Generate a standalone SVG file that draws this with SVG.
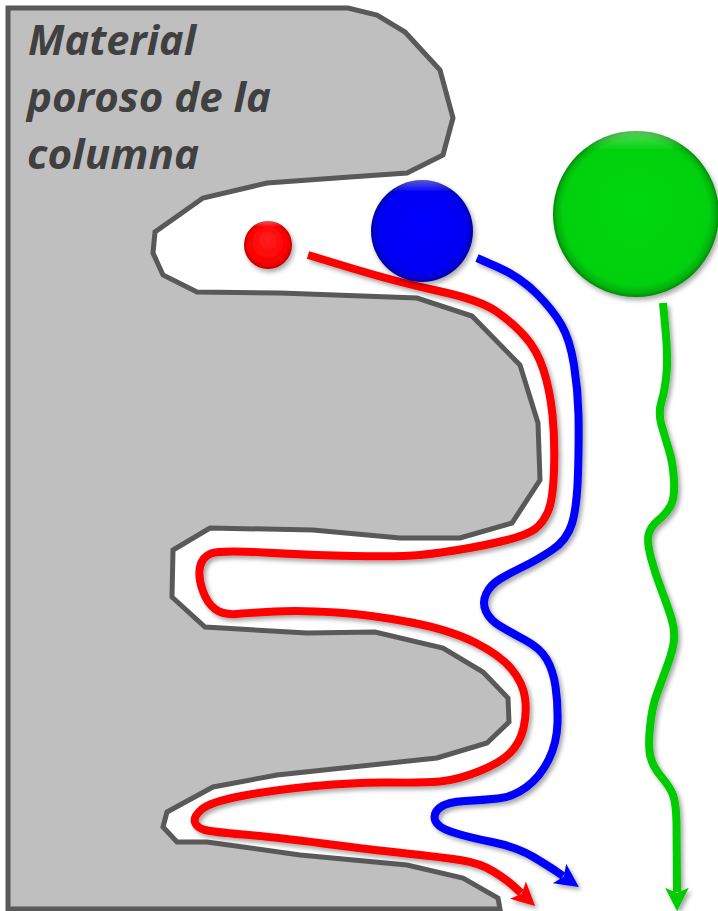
<svg xmlns="http://www.w3.org/2000/svg" width="718" height="911" viewBox="0 0 718 911">
  <style>
    .matrix { fill: #bfbfbf; stroke: #595959; stroke-width: 5; stroke-linejoin: miter; }
    .label { font-family: "Open Sans", Lato, "Liberation Sans", sans-serif; font-weight: bold; font-style: italic; font-size: 41px; fill: #404040; }
    .route { fill: none; stroke-width: 8; stroke-linecap: butt; stroke-linejoin: round; }
    .red { stroke: #ff0000; }
    .blue { stroke: #0000ff; }
    .green { stroke: #00cc00; }
  </style>
  <defs>
    <filter id="soft" x="-20%" y="-20%" width="140%" height="140%">
      <feDropShadow dx="2.5" dy="3" stdDeviation="2" flood-color="#000" flood-opacity="0.35"/>
    </filter>
    <filter id="ballShadow" x="-20%" y="-20%" width="140%" height="140%">
      <feDropShadow dx="2" dy="3" stdDeviation="2.5" flood-color="#000" flood-opacity="0.35"/>
    </filter>
    <radialGradient id="gRed" cx="50%" cy="50%" r="50%" fx="50%" fy="35%">
      <stop offset="0" stop-color="#ff2020"/>
      <stop offset="0.8" stop-color="#ff0000"/>
      <stop offset="0.93" stop-color="#e00000"/>
      <stop offset="1" stop-color="#b00000"/>
    </radialGradient>
    <radialGradient id="gBlue" cx="50%" cy="50%" r="50%" fx="50%" fy="40%">
      <stop offset="0" stop-color="#0000ff"/>
      <stop offset="0.85" stop-color="#0000f4"/>
      <stop offset="0.95" stop-color="#0000d0"/>
      <stop offset="1" stop-color="#00009a"/>
    </radialGradient>
    <radialGradient id="gGreen" cx="50%" cy="50%" r="50%" fx="50%" fy="42%">
      <stop offset="0" stop-color="#00d80a"/>
      <stop offset="0.88" stop-color="#00d00a"/>
      <stop offset="0.96" stop-color="#00b008"/>
      <stop offset="1" stop-color="#008a06"/>
    </radialGradient>
    <linearGradient id="rim" x1="0" y1="0" x2="0" y2="1">
      <stop offset="0" stop-color="#fff" stop-opacity="0.35"/>
      <stop offset="0.12" stop-color="#fff" stop-opacity="0"/>
      <stop offset="1" stop-color="#fff" stop-opacity="0"/>
    </linearGradient>
    <marker id="tipRed" markerUnits="userSpaceOnUse" markerWidth="30" markerHeight="30" viewBox="-6 -13 28 26" refX="0" refY="0" orient="auto" overflow="visible">
      <path d="M-4,-11 L18,0 L-4,11 L1,0 Z" fill="#ff0000"/>
    </marker>
    <marker id="tipBlue" markerUnits="userSpaceOnUse" markerWidth="30" markerHeight="30" viewBox="-6 -13 28 26" refX="0" refY="0" orient="auto" overflow="visible">
      <path d="M-4,-11 L18,0 L-4,11 L1,0 Z" fill="#0000ff"/>
    </marker>
    <marker id="tipGreen" markerUnits="userSpaceOnUse" markerWidth="30" markerHeight="30" viewBox="-6 -13 28 26" refX="0" refY="0" orient="auto" overflow="visible">
      <path d="M-4,-11 L18,0 L-4,11 L1,0 Z" fill="#00cc00"/>
    </marker>
  </defs>

  <rect width="718" height="911" fill="#ffffff"/>

  <!-- porous packing material with its pores -->
  <g id="material">
    <polygon class="matrix" points="8,8 348,8 377,15 405,32 440,70 453,118 443,155 407,173 350,177 267,183 203,198 155,232 153,253 163,275 197,292 280,293 417,298 472,316 520,365 538,423 540,480 512,523 460,538 400,538 313,530 210,528 173,550 172,597 205,627 307,633 375,632 443,648 483,672 508,698 509,722 487,743 437,758 277,775 213,787 167,812 163,827 177,842 207,842 300,855 407,865 463,878 498,898 500,909 8,909"/>
    <text class="label" x="28" y="55" textLength="168" lengthAdjust="spacingAndGlyphs">Material</text>
    <text class="label" x="27" y="112" textLength="244" lengthAdjust="spacingAndGlyphs">poroso de la</text>
    <text class="label" x="27" y="169" textLength="172" lengthAdjust="spacingAndGlyphs">columna</text>
  </g>

  <!-- elution routes -->
  <g id="routes" filter="url(#soft)">
    <path id="route-small" class="route red" marker-end="url(#tipRed)" d="M308,255 L352.5,268.5 Q397,282 438.5,291 Q480,300 496.5,311.5 Q513,323 525,336.5 Q537,350 543.5,370 Q550,390 552.5,415 Q555,440 554,470 Q553,500 548,511.5 Q543,523 535,529 Q527,535 507,540 Q487,545 463.5,549 Q440,553 420,555 Q400,557 353.5,556 Q307,555 263.5,552.5 Q220,550 211,553.5 Q202,557 200,567 Q198,577 202.5,590 Q207,603 215,609 Q223,615 236.5,614 Q250,613 275,611.5 Q300,610 336.5,612.5 Q373,615 411.5,622.5 Q450,630 475,642.5 Q500,655 511.5,669 Q523,683 525,698 Q527,713 523.5,728 Q520,743 510,753 Q500,763 478.5,771.5 Q457,780 440,781.5 Q423,783 390,782.5 Q357,782 315,786 Q273,790 241.5,796 Q210,802 201.5,809.5 Q193,817 195,822.5 Q197,828 205,830 Q213,832 243,834.5 Q273,837 323,843.5 Q373,850 406.5,853.5 Q440,857 460,860 Q480,863 493.5,871.5 Q507,880 514,886.5 L521,893"/>
    <path id="route-medium" class="route blue" marker-end="url(#tipBlue)" d="M477,258 L498.5,267.5 Q520,277 536.5,293.5 Q553,310 561.5,325 Q570,340 574,365 Q578,390 578.5,415 Q579,440 578,473.5 Q577,507 572,523.5 Q567,540 552,550 Q537,560 523.5,566.5 Q510,573 500,579 Q490,585 486,594 Q482,603 486,611.5 Q490,620 500,626 Q510,632 525,640 Q540,648 546.5,659 Q553,670 555.5,686.5 Q558,703 557.5,723 Q557,743 548.5,760 Q540,777 526.5,787 Q513,797 498,798.5 Q483,800 465,801 Q447,802 440,807.5 Q433,813 435,820 Q437,827 452,832 Q467,837 492,842 Q517,847 533.5,857 Q550,867 556.5,871.5 L563,876"/>
    <path id="route-large" class="route green" marker-end="url(#tipGreen)" d="M663,303 L665.5,330 Q668,357 666.5,373.5 Q665,390 661.5,401.5 Q658,413 661.5,425 Q665,437 669,450 Q673,463 674,480 Q675,497 671,505 Q667,513 658.5,520 Q650,527 648.5,535 Q647,543 651,558 Q655,573 661.5,590 Q668,607 671.5,618.5 Q675,630 674,640 Q673,650 667.5,665 Q662,680 657,693.5 Q652,707 650,727 Q648,747 650.5,757 Q653,767 661.5,777 Q670,787 673,795 Q676,803 676.5,821.5 L677,892"/>
  </g>

  <!-- analyte molecules of three sizes -->
  <g id="sphere-small" filter="url(#ballShadow)">
    <circle cx="268" cy="245" r="24" fill="url(#gRed)"/>
    <circle cx="268" cy="245" r="24" fill="url(#rim)"/>
  </g>
  <g id="sphere-medium" filter="url(#ballShadow)">
    <circle cx="422" cy="231" r="51" fill="url(#gBlue)"/>
    <circle cx="422" cy="231" r="51" fill="url(#rim)"/>
  </g>
  <g id="sphere-large" filter="url(#ballShadow)">
    <circle cx="636" cy="214" r="83" fill="url(#gGreen)"/>
    <circle cx="636" cy="214" r="83" fill="url(#rim)"/>
  </g>
</svg>
